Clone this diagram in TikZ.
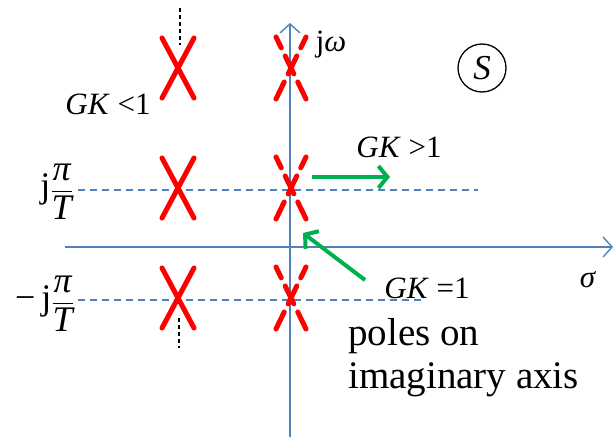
\documentclass[tikz,border=0pt]{standalone}
\usepackage{amsmath}
\usepackage{fontspec}
\setmainfont{Liberation Serif}
\usepackage{tikz}
\usetikzlibrary{arrows.meta}
\definecolor{axisblue}{RGB}{79,129,189}
\definecolor{movegreen}{RGB}{0,176,80}
\newcommand{\piT}{\genfrac{}{}{1.3pt}{0}{\textit{π}}{\textit{T}}}

\begin{document}
\begin{tikzpicture}[x=1pt,y=-1pt,every node/.style={font=\fontsize{31}{36}\selectfont},
    axis/.style={axisblue,line width=1.4pt,-{Straight Barb[length=9pt,width=20pt]}},
    grid/.style={axisblue,line width=1.3pt,dash pattern=on 7pt off 5pt},
    pole/.style={red,line width=5pt,line cap=round},
    dpole/.style={pole,dash pattern=on 12pt off 9pt on 20pt off 9pt on 12pt off 0pt},
    move/.style={movegreen,line width=4pt,-{Straight Barb[length=9pt,width=22pt]}},
    level/.style={anchor=east,inner sep=0pt,font=\fontsize{36}{40}\selectfont}]
  \useasboundingbox (0,0) rectangle (615,439);
  % axes and the lines at +-pi/T
  \draw[axis] (65,247) -- (613,247);
  \draw[axis] (290,437) -- (290,23);
  \draw[grid] (78,190) -- (478,190);
  \draw[grid] (78,300) -- (423,300);
  \draw[line width=1.5pt,dash pattern=on 4pt off 3pt] (180,8) -- (180,45);
  \draw[line width=1.5pt,dash pattern=on 4pt off 3pt] (179,318) -- (179,348);
  % poles
  \foreach \y in {68,188,298} {
    \draw[pole] (162,\y-30) -- (194,\y+30) (194,\y-30) -- (162,\y+30);
    \draw[dpole] (276,\y-31) -- (306,\y+31) (306,\y-31) -- (276,\y+31);
  }
  % labels
  \node (jw) at (331,45) {j\textit{ω}};
  \node (sig) at (588,280) {\textit{σ}};
  \node[draw,circle,line width=1.3pt,minimum size=48pt,inner sep=0pt,font=\fontsize{35}{40}\selectfont] (S) at (482,68) {\textit{S}};
  \node (lt) at (108,104) {\textit{GK} <1};
  \node (gt) at (399,147) {\textit{GK} >1};
  \node (eq) at (427,288) {\textit{GK} =1};
  \node[level] (up) at (73,192) {j$\piT$};
  \node[level] (dn) at (74,304) {−\,j$\piT$};
  \node[anchor=north west,align=left,inner sep=0pt,font=\fontsize{39}{43}\selectfont] (note) at (348,318) {poles on\\imaginary axis};
  % moves of the poles
  \coordinate (r0) at (312,177);
  \coordinate (r1) at (390,177);
  \coordinate (d0) at (365,280);
  \coordinate (d1) at (303,233);
  \draw[move] (r0) -- (r1);
  \draw[move] (d0) -- (d1);
\end{tikzpicture}
\end{document}
